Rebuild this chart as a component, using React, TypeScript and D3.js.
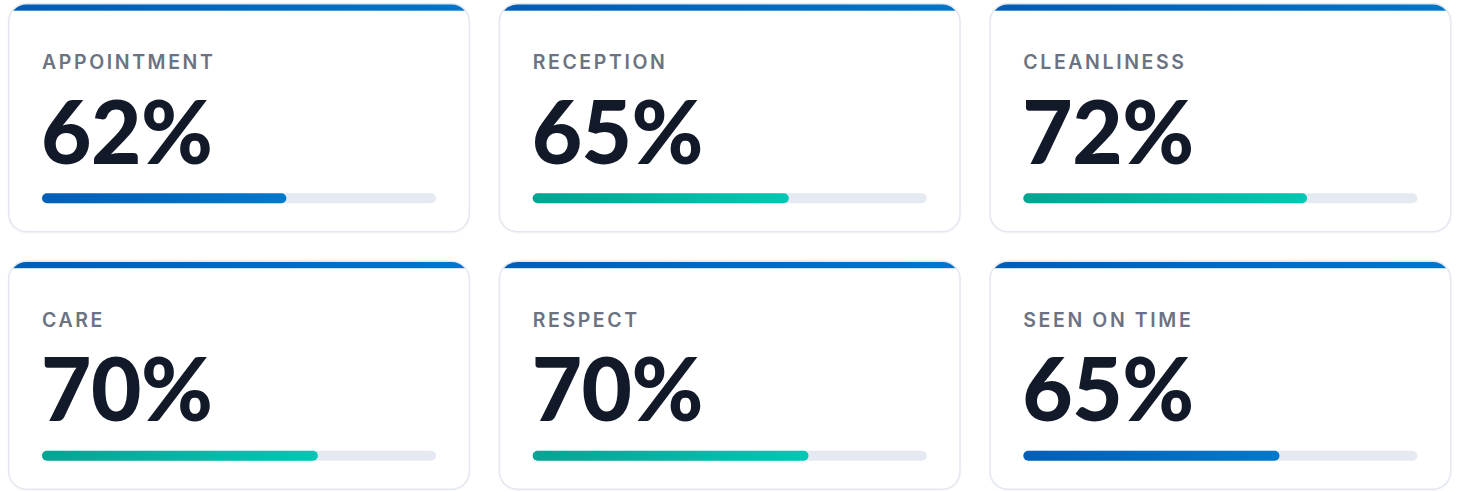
import React from "react";
import * as d3 from "d3";

const categories = ["APPOINTMENT", "RECEPTION", "CLEANLINESS", "CARE", "RESPECT", "SEEN ON TIME"];
const values = [62, 65, 72, 70, 70, 65];
const barStyles = ["blue", "teal", "teal", "teal", "teal", "blue"];

const W = 1458;
const H = 491;
const COLS = 3;
const GAP = 30;
const LEFT = 8.7;
const TOP = 3.7;
const CARD_W = (W - 16 - GAP * (COLS - 1)) / COLS;
const CARD_H = 228;
const ROW_GAP = 29.5;
const PAD = 33.3;
const RADIUS = 18;

export default function App() {
  const trackW = CARD_W - PAD * 2;
  const x = d3.scaleLinear().domain([0, 100]).range([0, trackW]);
  const col = d3.scaleBand<number>().domain(d3.range(COLS)).range([LEFT, LEFT + COLS * CARD_W + (COLS - 1) * GAP]).paddingInner(GAP / (CARD_W + GAP));
  return (
    <svg width={W} height={H} style={{ position: "absolute", left: 0, top: 0, fontFamily: "Inter, sans-serif" }}>
      <defs>
        <linearGradient id="g-blue" x1="0" x2="1" y1="0" y2="0">
          <stop offset="0" stopColor="#005fb6" />
          <stop offset="1" stopColor="#0079cb" />
        </linearGradient>
        <linearGradient id="g-teal" x1="0" x2="1" y1="0" y2="0">
          <stop offset="0" stopColor="#00a692" />
          <stop offset="1" stopColor="#00c8b4" />
        </linearGradient>
        <linearGradient id="g-top" x1="0" x2="1" y1="0" y2="0">
          <stop offset="0" stopColor="#005db4" />
          <stop offset="1" stopColor="#0076ca" />
        </linearGradient>
        <filter id="shadow" x="-5%" y="-5%" width="110%" height="115%">
          <feDropShadow dx="0" dy="1" stdDeviation="1.5" floodColor="#1e293b" floodOpacity="0.05" />
        </filter>
        {categories.map((_, i) => (
          <clipPath id={`clip-${i}`} key={i}>
            <rect x={0} y={0} width={CARD_W} height={CARD_H} rx={RADIUS} ry={RADIUS} />
          </clipPath>
        ))}
      </defs>
      {categories.map((cat, i) => {
        const cx = col(i % COLS) as number;
        const cy = TOP + Math.floor(i / COLS) * (CARD_H + ROW_GAP);
        return (
          <g key={cat} transform={`translate(${cx},${cy})`}>
            <rect x={0} y={0} width={CARD_W} height={CARD_H} rx={RADIUS} ry={RADIUS} fill="#ffffff" filter="url(#shadow)" />
            <g clipPath={`url(#clip-${i})`}>
              <rect x={0} y={0} width={CARD_W} height={7} fill="url(#g-top)" />
            </g>
            <rect x={0} y={0} width={CARD_W} height={CARD_H} rx={RADIUS} ry={RADIUS} fill="none" stroke="#e3e7f0" strokeWidth={1.5} />
            <text x={PAD} y={65.5} fontSize={19.5} fontWeight={600} letterSpacing={2.6} fill="#6b7383">
              {cat}
            </text>
            <text x={PAD - 1} y={160} fontSize={87} fontWeight={900} letterSpacing={-0.5} fill="#121a2a" style={{ fontFamily: "Lato, sans-serif" }}>
              {values[i]}%
            </text>
            <rect x={PAD} y={189.5} width={trackW} height={10} rx={5} fill="#e5e9f2" />
            <rect x={PAD} y={189.5} width={x(values[i])} height={10} rx={5} fill={`url(#g-${barStyles[i]})`} />
          </g>
        );
      })}
    </svg>
  );
}
